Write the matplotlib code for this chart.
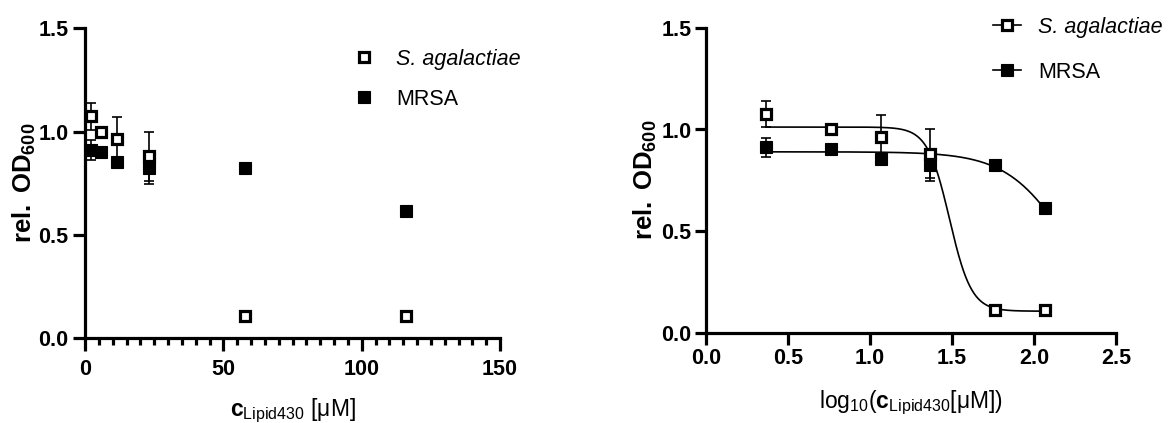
import numpy as np
import matplotlib
matplotlib.use("Agg")
import matplotlib.pyplot as plt
from matplotlib.lines import Line2D
from matplotlib.ticker import MultipleLocator

plt.rcParams['font.family'] = ['Liberation Sans', 'DejaVu Sans']
plt.rcParams['mathtext.fontset'] = 'custom'
plt.rcParams['mathtext.rm'] = 'Liberation Sans'
plt.rcParams['mathtext.it'] = 'Liberation Sans:italic'
plt.rcParams['mathtext.bf'] = 'Liberation Sans:bold'

# ---- data ----
conc_uM = [2.32, 5.8, 11.6, 23.2, 58.0, 116.0]
sag_mean = [1.075, 1.00, 0.965, 0.88, 0.11, 0.11]
sag_sd = [0.065, 0.015, 0.108, 0.12, 0.01, 0.01]
mrsa_mean = [0.912, 0.902, 0.853, 0.823, 0.823, 0.615]
mrsa_sd = [0.048, 0.015, 0.015, 0.075, 0.02, 0.015]

# fitted 4-parameter logistic parameters (top, bottom, logIC50, hill)
sag_fit = [1.012, 0.105, 1.485, 6.5]
mrsa_fit = [0.89, 0.0, 2.21, 2.31]

series_labels = ['S. agalactiae', 'MRSA']

W, H = 1169, 423
fig = plt.figure(figsize=(W / 100, H / 100), dpi=100)

def px_axes(x0, x1, y_bot, y_top):
    return fig.add_axes([x0 / W, (H - y_bot) / H, (x1 - x0) / W, (y_bot - y_top) / H])

LW = 2.3
TICK_FS = 15.5

def style_axes(ax):
    for s in ['top', 'right']:
        ax.spines[s].set_visible(False)
    for s in ['left', 'bottom']:
        ax.spines[s].set_linewidth(LW)
    for lab in ax.get_xticklabels() + ax.get_yticklabels():
        lab.set_fontweight('bold')
        lab.set_fontsize(TICK_FS)

def logistic(x, p):
    top, bottom, c, h = p
    return bottom + (top - bottom) / (1 + 10 ** ((x - c) * h))

open_kw = dict(marker='s', markersize=7.8, markerfacecolor='white', markeredgecolor='black',
               markeredgewidth=2.3, linestyle='none', clip_on=False, zorder=4)
fill_kw = dict(marker='s', markersize=8.0, markerfacecolor='black', markeredgecolor='black',
               markeredgewidth=0.8, linestyle='none', clip_on=False, zorder=3)
err_kw = dict(fmt='none', ecolor='black', elinewidth=1.2, capsize=3.6, capthick=1.2, clip_on=False)

# ---------------- left panel ----------------
ax1 = px_axes(85, 500, 338.3, 28.4)
ax1.errorbar(conc_uM, mrsa_mean, yerr=mrsa_sd, zorder=2, **err_kw)
ax1.errorbar(conc_uM, sag_mean, yerr=sag_sd, zorder=2, **err_kw)
ax1.plot(conc_uM, mrsa_mean, **fill_kw)
ax1.plot(conc_uM, sag_mean, **open_kw)
ax1.set_xlim(0, 150)
ax1.set_ylim(0, 1.5)
ax1.set_xticks([0, 50, 100, 150])
ax1.xaxis.set_minor_locator(MultipleLocator(5))
ax1.set_yticks([0, 0.5, 1.0, 1.5])
ax1.set_yticklabels(['0.0', '0.5', '1.0', '1.5'])
ax1.tick_params(axis='x', which='major', direction='out', length=9.6, width=LW, pad=5.0)
ax1.tick_params(axis='x', which='minor', direction='out', length=4.8, width=LW)
ax1.tick_params(axis='y', which='major', direction='out', length=8.4, width=LW, pad=3.5)
style_axes(ax1)

h_open = Line2D([], [], **{k: v for k, v in open_kw.items() if k not in ('clip_on', 'zorder')})
h_fill = Line2D([], [], **{k: v for k, v in fill_kw.items() if k not in ('clip_on', 'zorder')})
leg1 = fig.legend([h_open, h_fill], series_labels, loc='upper left',
                  bbox_to_anchor=(353.5 / W, (H - 48.5) / H), frameon=False,
                  borderpad=0, borderaxespad=0, handlelength=1.0, handletextpad=0.98,
                  labelspacing=0.9, fontsize=15.5)
leg1.get_texts()[0].set_fontstyle('italic')

fig.text(24 / W, (H - 183) / H, r'$\mathbf{rel.\ OD_{600}}$', rotation=90,
         ha='center', va='center', fontsize=18.5)
fig.text(292.5 / W, (H - 411) / H, r'$\mathbf{c}_{\mathrm{Lipid430}}\ \mathrm{[μM]}$',
         ha='center', va='center', fontsize=16.5)

# ---------------- right panel ----------------
logc = np.log10(conc_uM)
ax2 = px_axes(706, 1116, 332.5, 28.0)
xs = np.linspace(logc[0], logc[-1], 400)
ax2.plot(xs, logistic(xs, sag_fit), color='black', lw=1.2, zorder=1)
ax2.plot(xs, logistic(xs, mrsa_fit), color='black', lw=1.2, zorder=1)
ax2.errorbar(logc, mrsa_mean, yerr=mrsa_sd, zorder=2, **err_kw)
ax2.errorbar(logc, sag_mean, yerr=sag_sd, zorder=2, **err_kw)
ax2.plot(logc, mrsa_mean, **fill_kw)
ax2.plot(logc, sag_mean, **open_kw)
ax2.set_xlim(0, 2.5)
ax2.set_ylim(0, 1.5)
ax2.set_xticks([0, 0.5, 1.0, 1.5, 2.0, 2.5])
ax2.set_xticklabels(['0.0', '0.5', '1.0', '1.5', '2.0', '2.5'])
ax2.set_yticks([0, 0.5, 1.0, 1.5])
ax2.set_yticklabels(['0.0', '0.5', '1.0', '1.5'])
ax2.tick_params(axis='x', which='major', direction='out', length=8.4, width=LW, pad=3.0)
ax2.tick_params(axis='y', which='major', direction='out', length=8.0, width=LW, pad=2.5)
style_axes(ax2)

h_open2 = Line2D([], [], color='black', lw=1.2, **{k: v for k, v in open_kw.items()
                                                    if k not in ('clip_on', 'zorder', 'linestyle')})
h_fill2 = Line2D([], [], color='black', lw=1.2, **{k: v for k, v in fill_kw.items()
                                                    if k not in ('clip_on', 'zorder', 'linestyle')})
leg2 = fig.legend([h_open2, h_fill2], series_labels, loc='upper left',
                  bbox_to_anchor=(993 / W, (H - 17.0) / H), frameon=False,
                  borderpad=0, borderaxespad=0, handlelength=1.3, handletextpad=0.79,
                  labelspacing=1.1, fontsize=15.5)
leg2.get_texts()[0].set_fontstyle('italic')

fig.text(645 / W, (H - 180) / H, r'$\mathbf{rel.\ OD_{600}}$', rotation=90,
         ha='center', va='center', fontsize=18.5)
fig.text(911 / W, (H - 403) / H, r'$\mathrm{log}_{10}(\mathbf{c}_{\mathrm{Lipid430}}\mathrm{[μM])}$',
         ha='center', va='center', fontsize=16.5)

fig.savefig('out.png', dpi=100)
